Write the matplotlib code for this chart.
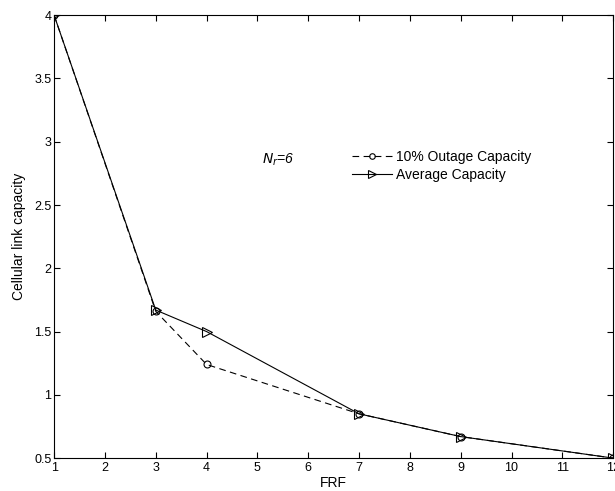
import matplotlib.pyplot as plt

# =========================
# DATA
# =========================

frf = [1, 3, 4, 7, 9, 12]
outage_10 = [4.0, 1.66, 1.24, 0.85, 0.67, 0.5]
average_cap = [4.0, 1.67, 1.50, 0.85, 0.67, 0.5]

xticks = list(range(1, 13))
yticks = [0.5, 1, 1.5, 2, 2.5, 3, 3.5, 4]

# =========================
# PLOT
# =========================

plt.rcParams['font.family'] = ['Liberation Sans', 'DejaVu Sans']

fig = plt.figure(figsize=(6.15, 4.91), dpi=100)
ax = fig.add_axes([0.088, 0.067, 0.909, 0.902])

ax.plot(frf, outage_10, color='black', linestyle=(0, (6, 4)), linewidth=0.8,
        marker='o', markersize=5, markerfacecolor='none', markeredgewidth=0.8,
        label='10% Outage Capacity')
ax.plot(frf, average_cap, color='black', linestyle='-', linewidth=0.8,
        marker='>', markersize=7, markerfacecolor='none', markeredgewidth=0.8,
        label='Average Capacity')

ax.set_xlim(1, 12)
ax.set_ylim(0.5, 4)
ax.set_xticks(xticks)
ax.set_yticks(yticks)
ax.set_yticklabels(['0.5', '1', '1.5', '2', '2.5', '3', '3.5', '4'])
ax.tick_params(direction='in', length=4, labelsize=9, top=True, right=True)
ax.tick_params(axis='x', pad=3)
ax.tick_params(axis='y', pad=2)
for s in ax.spines.values():
    s.set_linewidth(0.8)

ax.set_xlabel("FRF", fontsize=10, labelpad=1)
ax.set_ylabel("Cellular link capacity", fontsize=10, labelpad=6)

ax.text(5.1, 2.86, "$N_r$=6", fontsize=10, style='italic', va='center')

ax.legend(loc='upper left', bbox_to_anchor=(0.533, 0.695), frameon=False,
          fontsize=10, handlelength=2.9, handletextpad=0.25, labelspacing=0.25,
          borderpad=0, borderaxespad=0, markerscale=0.8)

plt.savefig("out.png", dpi=100)
